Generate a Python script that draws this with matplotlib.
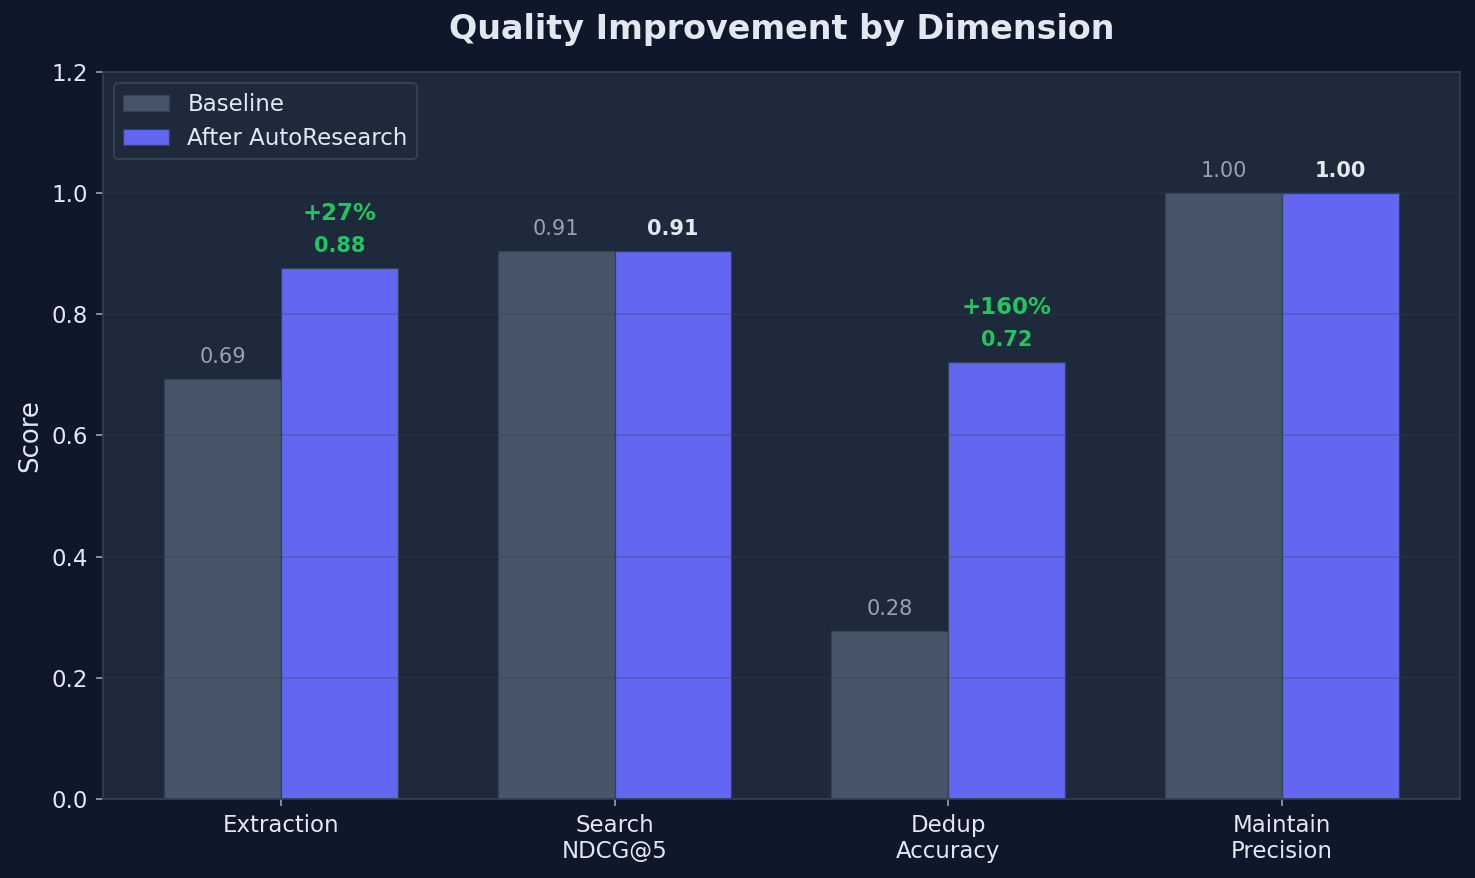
import numpy as np
import matplotlib
matplotlib.use('Agg')
import matplotlib.pyplot as plt

categories = ['Extraction', 'Search\nNDCG@5', 'Dedup\nAccuracy', 'Maintain\nPrecision']
baseline = [0.693, 0.905, 0.277, 1.00]
after = [0.876, 0.905, 0.721, 1.00]
baseline_labels = ['0.69', '0.91', '0.28', '1.00']
after_labels = ['0.88', '0.91', '0.72', '1.00']
gains = ['+27%', '', '+160%', '']

bg = '#0f172a'
panel = '#1e293b'
edge = '#334155'
txt = '#e2e8f0'
grey = '#94a3b8'
green = '#22c55e'

fig = plt.figure(figsize=(1475/150, 878/150), dpi=150, facecolor=bg)
ax = fig.add_axes([0.0695, 0.09, 0.9205, 0.828])
ax.set_facecolor(panel)

x = np.arange(len(categories))
w = 0.35
ax.bar(x - w/2, baseline, w, color='#475569', edgecolor=edge, linewidth=0.6, label='Baseline')
ax.bar(x + w/2, after, w, color='#6366f1', edgecolor=edge, linewidth=0.6, label='After AutoResearch')

for i in range(len(categories)):
	ax.text(x[i] - w/2, baseline[i] + 0.02, baseline_labels[i], ha='center', va='bottom',
			fontsize=10, color=grey)
	if gains[i]:
		ax.text(x[i] + w/2, after[i] + 0.02, after_labels[i], ha='center', va='bottom',
				fontsize=10, color=green, fontweight='bold')
		ax.text(x[i] + w/2, after[i] + 0.071, gains[i], ha='center', va='bottom',
				fontsize=11, color=green, fontweight='bold')
	else:
		ax.text(x[i] + w/2, after[i] + 0.02, after_labels[i], ha='center', va='bottom',
				fontsize=10, color=txt, fontweight='bold')

ax.set_ylim(0, 1.2)
ax.set_xticks(x)
ax.set_xticklabels(categories, fontsize=11)
ax.tick_params(colors=grey, labelcolor=txt, labelsize=11)
ax.set_ylabel('Score', fontsize=12.5, color=txt)
ax.set_title('Quality Improvement by Dimension', fontsize=16, fontweight='bold', color=txt, pad=16)
ax.yaxis.grid(True, color=edge, alpha=0.3, linewidth=0.8)
for s in ax.spines.values():
	s.set_color(edge)

leg = ax.legend(loc='upper left', fontsize=11, facecolor=panel, edgecolor=edge, framealpha=1)
for t in leg.get_texts():
	t.set_color(txt)

plt.savefig('out.png', dpi=150, facecolor=bg)
